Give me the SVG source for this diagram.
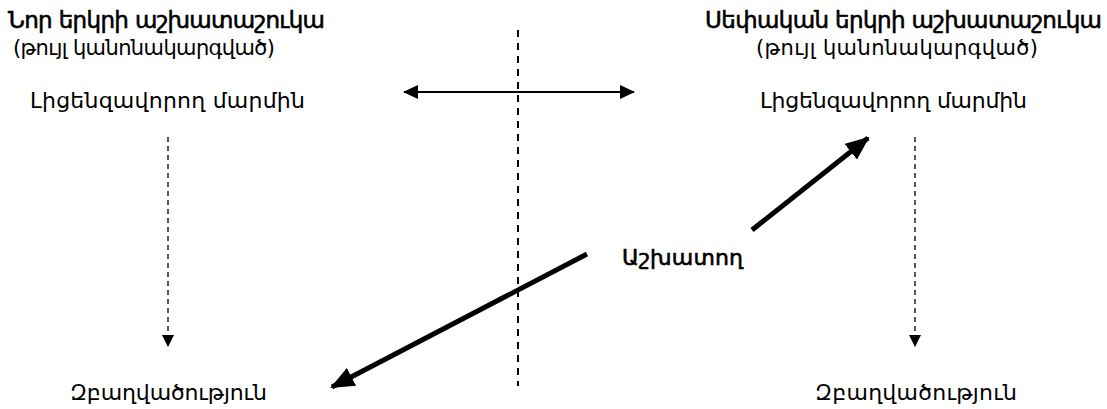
<svg xmlns="http://www.w3.org/2000/svg" width="1107" height="409" viewBox="0 0 1107 409">
<style>
text{font-family:"DejaVu Sans","Noto Sans",sans-serif;fill:#000;font-size:22px}
.t{font-size:23px;stroke:#000;stroke-width:0.6}
.s{font-size:21px}
.w{stroke:#000;stroke-width:0.6}
.thin{stroke:#222;stroke-width:1.5;stroke-dasharray:5,4;fill:none}
.mid{stroke:#000;stroke-width:2;stroke-dasharray:7,6;fill:none}
.thick{stroke:#000;stroke-width:5;fill:none}
</style>
<defs>
<marker id="ah" markerWidth="12" markerHeight="12" refX="11" refY="6" orient="auto" markerUnits="userSpaceOnUse"><path d="M0,0 L12,6 L0,12 z" fill="#000"/></marker>
<marker id="ahs" markerWidth="15" markerHeight="14" refX="14" refY="7" orient="auto-start-reverse" markerUnits="userSpaceOnUse"><path d="M0,0 L15,7 L0,14 z" fill="#000"/></marker>
<marker id="ahb" markerWidth="24" markerHeight="20" refX="22" refY="10" orient="auto" markerUnits="userSpaceOnUse"><path d="M0,0 L24,10 L0,20 z" fill="#000"/></marker>
</defs>
<g id="connectors">
<line class="mid" x1="518" y1="30" x2="518" y2="386"/>
<line x1="404" y1="92" x2="634" y2="92" stroke="#000" stroke-width="2" marker-start="url(#ahs)" marker-end="url(#ahs)"/>
<line class="thin" x1="168" y1="137" x2="168" y2="346" marker-end="url(#ah)"/>
<line class="thin" x1="915" y1="137" x2="915" y2="346" marker-end="url(#ah)"/>
<line class="thick" x1="752" y1="230" x2="868" y2="138" marker-end="url(#ahb)"/>
<line class="thick" x1="587" y1="254" x2="332" y2="387" marker-end="url(#ahb)"/>
</g>
<g id="new-market">
<text class="t" x="8" y="28" textLength="317">Նոր երկրի աշխատաշուկա</text>
<text class="s" x="13" y="55" textLength="262">(թույլ կանոնակարգված)</text>
</g>
<g id="own-market">
<text class="t" x="705" y="28" textLength="397">Սեփական երկրի աշխատաշուկա</text>
<text class="s" x="756" y="55" textLength="282">(թույլ կանոնակարգված)</text>
</g>
<g id="licensing-left"><text x="30" y="108" textLength="275">Լիցենզավորող մարմին</text></g>
<g id="licensing-right"><text x="760" y="108" textLength="267">Լիցենզավորող մարմին</text></g>
<g id="employment-left"><text x="70" y="400" textLength="197">Զբաղվածություն</text></g>
<g id="employment-right"><text x="815" y="400" textLength="202">Զբաղվածություն</text></g>
<g id="worker"><text class="w" x="622" y="265" textLength="121">Աշխատող</text></g>
</svg>
